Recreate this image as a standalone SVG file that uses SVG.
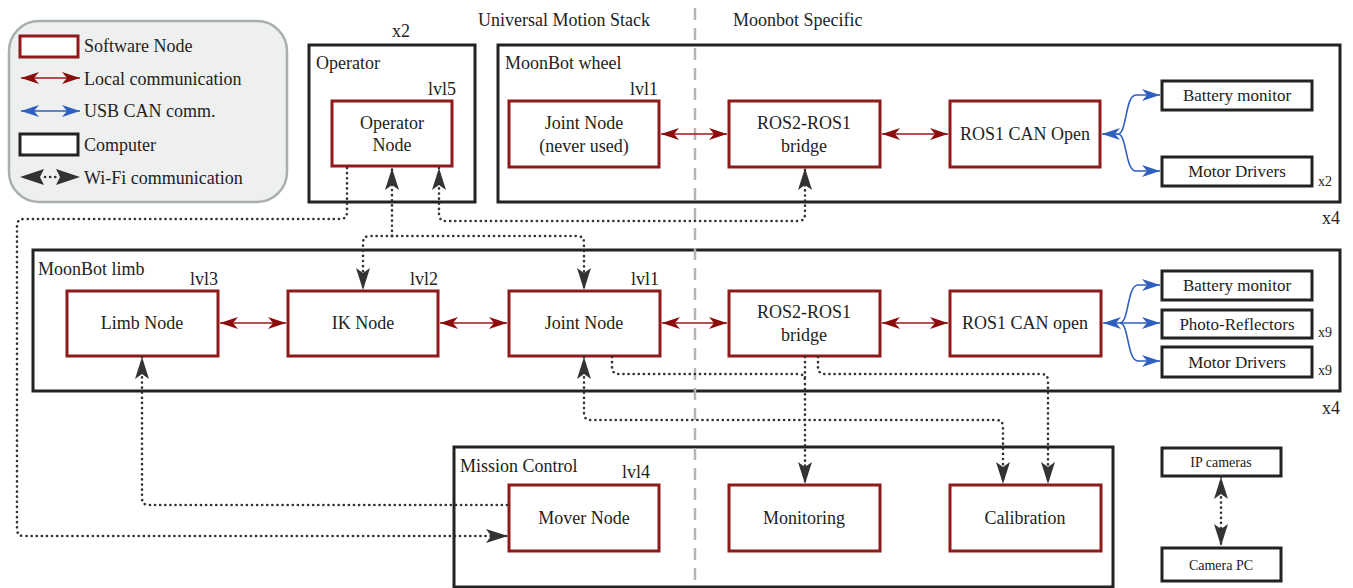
<svg xmlns="http://www.w3.org/2000/svg" width="1353" height="588" viewBox="0 0 1353 588" font-family="'Liberation Serif', 'DejaVu Serif', 'Times New Roman', serif">
<style>
text{fill:#222}
.t{font-size:18px}
.c{text-anchor:middle}
.r{text-anchor:end}
.s{font-size:17px}
.xs{font-size:14px}
.node{fill:#fff;stroke:#8e1b1b;stroke-width:3}
.comp{fill:#fff;stroke:#222;stroke-width:3}
.hw{fill:#fff;stroke:#222;stroke-width:3}
.loc{fill:none;stroke:#9a1a1a;stroke-width:1.6}
.usb{fill:none;stroke:#2f5fbf;stroke-width:1.6}
.wifi{fill:none;stroke:#333;stroke-width:2.6;stroke-dasharray:0.1 5;stroke-linecap:round}
</style>
<defs>
<marker id="ar" viewBox="0 0 18 12" refX="18" refY="6" markerWidth="18" markerHeight="12" markerUnits="userSpaceOnUse" orient="auto-start-reverse"><path d="M0,0 L18,6 L0,12 L5,6 z" fill="#8b0c0c"/></marker>
<marker id="ab" viewBox="0 0 18 12" refX="18" refY="6" markerWidth="18" markerHeight="12" markerUnits="userSpaceOnUse" orient="auto-start-reverse"><path d="M0,0 L18,6 L0,12 L5,6 z" fill="#2f5fbf"/></marker>
<marker id="aw" viewBox="0 0 22 14" refX="22" refY="7" markerWidth="22" markerHeight="14" markerUnits="userSpaceOnUse" orient="auto-start-reverse"><path d="M0,0 L22,7 L0,14 L5,7 z" fill="#333"/></marker>
</defs>

<g id="legend">
<rect x="9" y="21" width="278" height="181" rx="30" fill="#eef0f0" stroke="#a9aeae" stroke-width="2.5"/>
<rect x="20" y="36" width="58" height="21" class="node"/>
<text x="84" y="52" class="t">Software Node</text>
<path d="M21,78 H80" class="loc" marker-start="url(#ar)" marker-end="url(#ar)"/>
<text x="84" y="85" class="t">Local communication</text>
<path d="M21,111 H80" class="usb" marker-start="url(#ab)" marker-end="url(#ab)"/>
<text x="84" y="117" class="t">USB CAN comm.</text>
<rect x="20" y="134" width="58" height="21" class="comp"/>
<text x="84" y="151" class="t">Computer</text>
<path d="M45,177 H56" class="wifi"/>
<path d="M20,177 L44,169 L40,177 L44,185 z" fill="#333"/>
<path d="M80,177 L56,169 L60,177 L56,185 z" fill="#333"/>
<text x="84" y="184" class="t">Wi-Fi communication</text>
</g>

<g id="headers">
<text x="564" y="26" class="t c">Universal Motion Stack</text>
<text x="733" y="26" class="t">Moonbot Specific</text>
</g>

<g id="operator">
<rect x="309" y="45" width="166" height="157" class="comp"/>
<text x="401" y="37" class="t c">x2</text>
<text x="316" y="69" class="t">Operator</text>
</g>
<g id="wheel">
<rect x="498" y="45" width="842" height="157" class="comp"/>
<text x="505" y="69" class="t">MoonBot wheel</text>
<text x="1340" y="224" class="t r">x4</text>
</g>
<g id="limb">
<rect x="33" y="250" width="1307" height="141" class="comp"/>
<text x="38" y="275" class="t">MoonBot limb</text>
<text x="1340" y="414" class="t r">x4</text>
</g>
<g id="mission">
<rect x="454" y="447" width="659" height="140" class="comp"/>
<text x="460" y="472" class="t">Mission Control</text>
</g>

<path id="divider" d="M695,8 V588" stroke="#b4b4b4" stroke-width="2.5" stroke-dasharray="12 8" fill="none"/>

<g id="operator-node">
<rect x="332" y="101" width="120" height="65" class="node"/>
<text x="456" y="95" class="t r">lvl5</text>
<text x="392" y="129" class="t c">Operator</text>
<text x="392" y="151" class="t c">Node</text>
</g>
<g id="wheel-joint">
<rect x="509" y="101" width="150" height="66" class="node"/>
<text x="658" y="95" class="t r">lvl1</text>
<text x="584" y="129" class="t c">Joint Node</text>
<text x="584" y="152" class="t c">(never used)</text>
</g>
<g id="wheel-bridge">
<rect x="729" y="101" width="151" height="66" class="node"/>
<text x="804" y="129" class="t c">ROS2-ROS1</text>
<text x="804" y="152" class="t c">bridge</text>
</g>
<g id="wheel-can">
<rect x="950" y="101" width="150" height="66" class="node"/>
<text x="1025" y="140" class="t c">ROS1 CAN Open</text>
</g>
<g id="wheel-battery">
<rect x="1162" y="81" width="150" height="29" class="hw"/>
<text x="1237" y="101" class="s c">Battery monitor</text>
</g>
<g id="wheel-motor">
<rect x="1162" y="157" width="150" height="29" class="hw"/>
<text x="1237" y="177" class="s c">Motor Drivers</text>
<text x="1318" y="186" class="xs">x2</text>
</g>

<g id="limb-node">
<rect x="67" y="291" width="151" height="65" class="node"/>
<text x="218" y="285" class="t r">lvl3</text>
<text x="142" y="329" class="t c">Limb Node</text>
</g>
<g id="ik-node">
<rect x="288" y="291" width="150" height="65" class="node"/>
<text x="438" y="285" class="t r">lvl2</text>
<text x="363" y="329" class="t c">IK Node</text>
</g>
<g id="limb-joint">
<rect x="509" y="291" width="151" height="65" class="node"/>
<text x="659" y="285" class="t r">lvl1</text>
<text x="584" y="329" class="t c">Joint Node</text>
</g>
<g id="limb-bridge">
<rect x="729" y="291" width="151" height="65" class="node"/>
<text x="804" y="318" class="t c">ROS2-ROS1</text>
<text x="804" y="341" class="t c">bridge</text>
</g>
<g id="limb-can">
<rect x="950" y="291" width="151" height="65" class="node"/>
<text x="1025" y="329" class="t c">ROS1 CAN open</text>
</g>
<g id="limb-battery">
<rect x="1162" y="271" width="150" height="29" class="hw"/>
<text x="1237" y="291" class="s c">Battery monitor</text>
</g>
<g id="limb-photo">
<rect x="1162" y="310" width="150" height="28" class="hw"/>
<text x="1237" y="330" class="s c">Photo-Reflectors</text>
<text x="1318" y="337" class="xs">x9</text>
</g>
<g id="limb-motor">
<rect x="1162" y="347" width="150" height="30" class="hw"/>
<text x="1237" y="368" class="s c">Motor Drivers</text>
<text x="1318" y="375" class="xs">x9</text>
</g>

<g id="mover">
<rect x="509" y="485" width="150" height="66" class="node"/>
<text x="650" y="478" class="t r">lvl4</text>
<text x="584" y="524" class="t c">Mover Node</text>
</g>
<g id="monitoring">
<rect x="729" y="485" width="151" height="66" class="node"/>
<text x="804" y="524" class="t c">Monitoring</text>
</g>
<g id="calibration">
<rect x="950" y="485" width="151" height="66" class="node"/>
<text x="1025" y="524" class="t c">Calibration</text>
</g>
<g id="ip-cameras">
<rect x="1162" y="448" width="119" height="28" class="hw"/>
<text x="1221" y="467" class="xs c">IP cameras</text>
</g>
<g id="camera-pc">
<rect x="1162" y="548" width="119" height="33" class="hw"/>
<text x="1221" y="570" class="xs c">Camera PC</text>
</g>

<g id="connectors">
<path d="M661,134 H727" class="loc" marker-start="url(#ar)" marker-end="url(#ar)"/>
<path d="M882,134 H948" class="loc" marker-start="url(#ar)" marker-end="url(#ar)"/>
<path d="M220,323 H286" class="loc" marker-start="url(#ar)" marker-end="url(#ar)"/>
<path d="M440,323 H507" class="loc" marker-start="url(#ar)" marker-end="url(#ar)"/>
<path d="M662,323 H727" class="loc" marker-start="url(#ar)" marker-end="url(#ar)"/>
<path d="M882,323 H948" class="loc" marker-start="url(#ar)" marker-end="url(#ar)"/>

<path d="M1102,134 H1118" class="usb" marker-start="url(#ab)"/>
<path d="M1118,134 C1127,134 1125,95 1136,95 H1160" class="usb" marker-end="url(#ab)"/>
<path d="M1118,134 C1127,134 1125,171 1136,171 H1160" class="usb" marker-end="url(#ab)"/>
<path d="M1103,323 H1160" class="usb" marker-start="url(#ab)" marker-end="url(#ab)"/>
<path d="M1120,323 C1129,323 1127,285 1138,285 H1160" class="usb" marker-end="url(#ab)"/>
<path d="M1120,323 C1129,323 1127,361 1138,361 H1160" class="usb" marker-end="url(#ab)"/>

<path d="M347,168 V212 Q347,219 340,219 H24 Q17,219 17,226 V529 Q17,536 24,536 H508" class="wifi" marker-end="url(#aw)"/>
<path d="M392,236 V168" class="wifi" marker-end="url(#aw)"/>
<path d="M392,236 H370 Q363,236 363,243 V290" class="wifi" marker-end="url(#aw)"/>
<path d="M392,236 H577 Q584,236 584,243 V290" class="wifi" marker-end="url(#aw)"/>
<path d="M439,168 V214 Q439,221 446,221 H798 Q805,221 805,214 V168" class="wifi" marker-start="url(#aw)" marker-end="url(#aw)"/>
<path d="M142,357 V498 Q142,505 149,505 H509" class="wifi" marker-start="url(#aw)"/>
<path d="M584,357 V413 Q584,420 591,420 H996 Q1003,420 1003,427 V484" class="wifi" marker-start="url(#aw)" marker-end="url(#aw)"/>
<path d="M612,357 V367 Q612,374 619,374 H798 Q805,374 805,381 V484" class="wifi" marker-end="url(#aw)"/>
<path d="M805,357 V381" class="wifi"/>
<path d="M818,357 V367 Q818,374 825,374 H1041 Q1048,374 1048,381 V484" class="wifi" marker-end="url(#aw)"/>
<path d="M1221,477 V546" class="wifi" marker-start="url(#aw)" marker-end="url(#aw)"/>
</g>
</svg>
